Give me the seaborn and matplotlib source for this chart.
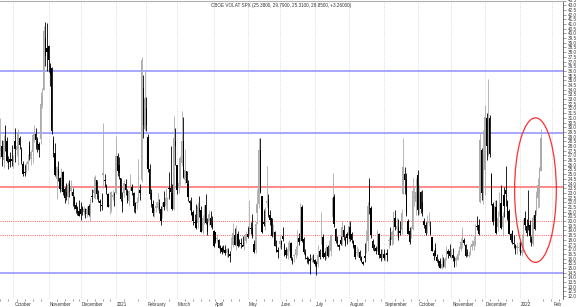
import numpy as np
import pandas as pd
import matplotlib
matplotlib.use("Agg")
import matplotlib.pyplot as plt
from matplotlib.patches import Ellipse
import matplotlib.transforms as mtransforms
import seaborn as sns

# ---------------- data ----------------
title_text = "CBOE VOLAT SPX (25.3800, 29.7900, 25.3100, 28.8500, +3.26000)"
start_date = "2020-09-21"
holidays = ["2020-11-26", "2020-12-25", "2021-01-01", "2021-01-18", "2021-02-15",
            "2021-04-02", "2021-05-31", "2021-07-05", "2021-09-06", "2021-11-25",
            "2021-12-24", "2022-01-17"]

# daily OHLC (trading days from 2020-09-21 to 2022-01-21)
opens = [
    27.5, 28.0, 26.5, 28.7, 28.5, 26.4, 26.6, 26.6,
    26.4, 28.5, 27.6, 27.7, 28.9, 27.6, 26.1, 25.2, 25.5, 26.1, 28.1, 26.6, 27.4, 29.1, 29.3, 28.5, 28.2, 28.7, 32.4, 34.0, 39.5, 38.4,
    38.6, 36.5, 36.3, 28.6, 27.3, 24.5, 25.6, 24.6, 23.4, 25.2, 23.4, 23.1, 22.6, 24.0, 23.2, 23.1, 22.6, 21.7, 21.4, 21.1,
    21.3, 21.4, 21.0, 21.3, 20.8, 21.6, 20.6, 22.7, 23.0, 22.5, 24.4, 22.7, 22.1, 21.6, 24.9, 24.4, 23.7, 22.9, 21.6, 21.3, 22.6, 22.9,
    23.0, 26.9, 26.0, 24.6, 22.3, 23.0, 24.0, 23.2, 22.1, 23.5, 23.6, 23.0, 21.9, 21.9, 22.3, 23.3, 24.4, 34.2, 29.8,
    32.1, 29.0, 25.6, 23.0, 21.8, 21.0, 21.4, 21.4, 21.9, 21.3, 20.8, 22.0, 21.6, 22.0, 23.5, 23.5, 23.0, 21.3, 28.5,
    26.0, 23.5, 24.0, 26.2, 28.5, 24.4, 25.3, 23.9, 22.1, 22.0, 21.0, 19.8, 20.1, 19.8, 21.4, 21.2, 18.9, 20.0, 21.7, 19.9, 20.0, 20.3, 20.0,
    18.9, 18.8, 18.1, 18.0, 17.3, 17.1, 17.0, 16.9, 16.6, 16.9, 16.5, 17.0, 17.5, 18.5, 17.6, 18.6, 17.8, 17.6, 17.5, 17.5, 17.9,
    18.6, 18.6, 19.3, 19.3, 17.6, 16.9, 20.9, 21.8, 27.6, 22.7, 19.9, 19.5, 21.9, 22.4, 20.7, 20.3, 18.6, 18.8, 17.3, 16.9,
    17.6, 17.9, 18.4, 17.5, 16.9, 16.3, 17.1, 17.7, 16.0, 16.3, 16.4, 17.1, 18.2, 18.1, 21.5, 18.1, 16.6, 16.1, 15.9, 16.0, 15.9, 16.0,
    15.9, 15.5, 15.4, 16.8, 18.2, 18.3, 16.6, 16.3, 17.2, 16.6, 16.8, 20.4, 22.6, 19.2, 18.0, 17.4, 18.0, 18.0, 19.1, 18.1, 18.6,
    18.4, 19.4, 18.6, 17.9, 17.4, 16.6, 16.7, 16.7, 16.1, 15.6, 16.2, 17.0, 17.9, 23.8, 21.4, 17.9, 17.5, 17.1, 16.8, 18.6, 16.5, 16.4,
    16.5, 16.1, 16.6, 17.9, 18.3, 18.0, 18.5, 20.3, 19.2, 19.4, 18.9, 19.0, 22.9, 25.0, 24.5, 20.0, 18.9, 18.6, 19.2, 22.5, 22.0,
    24.9, 21.3, 23.1, 22.0, 20.0, 19.6, 19.1, 19.8, 19.4, 18.3, 16.6, 17.1, 16.2, 15.7, 15.8, 15.0, 15.8, 15.1, 16.2, 16.8, 16.8,
    16.4, 16.4, 16.1, 15.7, 15.9, 16.6, 17.0, 17.8, 18.0, 17.4, 16.5, 16.3, 16.6, 17.2, 17.3, 17.6, 19.4, 19.6, 22.0, 27.6, 23.0,
    25.4, 31.0, 27.0, 31.0, 25.0, 21.8, 20.0, 21.5, 19.4, 21.2, 21.9, 19.4, 22.8, 23.3, 22.1, 21.1, 18.6, 18.9, 17.6, 17.5, 17.1, 17.1,
    17.6, 16.6, 17.0, 20.3, 19.5, 19.8, 19.6, 18.1, 17.6, 20.6, 21.0, 22.5, 23.0, 25.38,
]
highs = [
    31.0, 28.6, 29.2, 30.2, 29.0, 26.9, 27.4, 28.1,
    27.0, 29.9, 28.2, 29.8, 29.1, 27.9, 26.4, 26.0, 26.3, 27.2, 28.5, 27.6, 29.5, 30.2, 29.9, 29.0, 28.4, 33.7, 34.2, 40.8, 41.2, 41.1,
    38.8, 36.8, 36.4, 29.1, 28.3, 25.9, 26.4, 24.7, 25.7, 25.3, 23.6, 24.1, 24.2, 24.4, 24.4, 23.5, 22.7, 22.0, 21.6, 22.3,
    22.0, 21.6, 21.6, 21.4, 21.6, 21.8, 22.5, 23.4, 24.5, 24.9, 24.4, 23.3, 22.4, 23.0, 30.5, 25.0, 23.9, 23.0, 22.2, 23.2, 23.3, 23.1,
    29.1, 27.3, 26.8, 24.6, 23.1, 24.4, 24.5, 23.4, 23.3, 25.0, 24.0, 23.1, 22.0, 22.6, 26.6, 24.0, 37.5, 35.6, 36.0,
    33.2, 29.3, 26.1, 23.4, 22.2, 21.5, 22.0, 23.0, 22.4, 21.6, 22.0, 23.2, 23.5, 22.6, 25.2, 28.0, 24.0, 31.2, 29.9,
    26.0, 24.8, 26.9, 31.7, 31.1, 27.7, 25.3, 24.4, 22.2, 22.6, 21.2, 20.8, 21.8, 22.0, 22.7, 21.6, 20.6, 21.7, 22.9, 20.3, 21.2, 21.1, 20.5,
    19.0, 18.8, 18.6, 18.1, 17.4, 17.3, 17.5, 17.4, 17.1, 17.1, 16.8, 18.3, 19.8, 19.3, 19.6, 18.9, 18.1, 18.2, 18.4, 18.5, 18.9,
    19.4, 22.2, 19.9, 20.8, 18.0, 20.0, 23.4, 28.9, 28.9, 22.7, 21.2, 21.5, 25.9, 22.9, 21.2, 20.3, 19.7, 18.9, 18.0, 17.2,
    18.5, 18.0, 19.4, 17.7, 17.2, 17.8, 18.0, 17.8, 16.2, 16.5, 17.3, 19.0, 18.7, 21.9, 21.7, 18.3, 17.0, 16.3, 16.2, 16.5, 16.4, 16.5,
    16.0, 15.7, 17.4, 17.0, 21.0, 18.6, 16.8, 17.4, 17.4, 18.0, 18.6, 25.1, 22.9, 19.3, 18.4, 17.6, 18.4, 20.0, 19.6, 18.4, 18.8,
    20.0, 20.0, 18.8, 18.0, 17.5, 17.3, 17.1, 16.9, 16.3, 15.8, 17.7, 19.0, 22.0, 24.6, 21.6, 18.1, 17.6, 17.3, 19.1, 18.7, 17.0, 17.0,
    17.0, 16.6, 17.0, 18.3, 19.4, 19.0, 20.9, 21.2, 20.3, 20.2, 20.0, 21.3, 28.8, 25.8, 25.1, 20.2, 19.4, 19.5, 24.6, 23.6, 24.6,
    25.4, 23.8, 23.2, 23.3, 20.3, 19.9, 20.6, 21.0, 20.0, 18.3, 16.9, 17.7, 16.5, 16.0, 16.1, 16.5, 16.2, 16.2, 17.3, 17.0, 17.6,
    17.0, 17.1, 16.3, 16.3, 16.9, 17.3, 18.2, 19.4, 18.2, 17.6, 17.0, 16.8, 17.4, 18.0, 18.4, 19.7, 20.5, 20.2, 29.4, 27.8, 29.7,
    32.4, 31.5, 35.1, 31.3, 25.1, 22.0, 22.2, 22.3, 21.1, 23.1, 23.8, 21.0, 23.6, 25.9, 22.2, 21.3, 18.7, 19.0, 18.5, 17.6, 17.8, 17.8,
    18.1, 18.6, 20.2, 21.1, 20.2, 23.3, 20.1, 18.4, 20.6, 21.2, 23.2, 24.6, 25.8, 29.79,
]
lows = [
    26.7, 25.9, 25.7, 27.5, 26.3, 25.6, 25.8, 25.9,
    25.7, 26.3, 26.9, 26.0, 27.7, 26.1, 24.8, 24.8, 25.1, 25.4, 26.5, 26.0, 26.2, 28.4, 27.7, 27.4, 26.8, 28.2, 32.0, 34.0, 36.5, 36.0,
    35.9, 34.4, 29.3, 26.8, 24.8, 22.4, 24.3, 23.1, 23.2, 22.8, 21.9, 22.3, 21.8, 22.6, 22.8, 21.6, 21.3, 20.9, 20.6, 20.5,
    20.1, 20.6, 20.6, 20.3, 20.4, 20.5, 20.0, 22.0, 22.5, 22.4, 22.4, 22.0, 21.1, 21.2, 23.5, 23.6, 22.9, 21.5, 20.8, 21.0, 22.3, 21.6,
    22.9, 24.8, 24.5, 22.1, 21.0, 22.6, 22.8, 21.9, 21.6, 23.3, 22.8, 21.0, 20.9, 21.3, 22.0, 22.3, 24.2, 28.9, 29.7,
    29.6, 25.2, 22.4, 21.5, 20.5, 20.4, 21.0, 21.2, 20.9, 19.6, 20.3, 21.2, 21.3, 21.1, 22.4, 22.6, 21.2, 21.2, 26.0,
    22.9, 23.0, 23.6, 25.9, 24.6, 24.0, 23.6, 22.1, 21.2, 20.6, 19.6, 19.4, 19.2, 19.3, 20.4, 18.8, 18.6, 19.7, 19.7, 18.5, 19.6, 19.4, 19.2,
    17.2, 17.7, 17.8, 17.1, 16.6, 16.5, 16.7, 16.4, 16.2, 16.2, 15.6, 16.8, 17.2, 17.4, 16.9, 17.2, 17.3, 17.1, 17.3, 16.9, 17.7,
    18.2, 18.5, 18.6, 18.2, 16.6, 16.6, 19.7, 21.4, 23.0, 18.7, 19.5, 19.1, 21.5, 20.4, 19.6, 18.3, 18.4, 17.3, 16.7, 16.1,
    17.1, 17.0, 17.9, 16.3, 16.1, 16.0, 16.8, 15.9, 15.4, 15.6, 16.1, 16.4, 17.5, 17.9, 17.8, 16.5, 16.0, 15.5, 15.4, 14.4, 15.6, 15.6,
    15.2, 14.3, 15.1, 16.0, 17.6, 16.1, 15.9, 16.0, 16.2, 16.3, 16.3, 20.0, 19.4, 17.7, 17.3, 16.9, 17.4, 17.5, 18.0, 17.3, 17.6,
    17.8, 17.9, 17.7, 17.1, 16.0, 16.3, 16.2, 15.9, 15.6, 15.3, 15.6, 16.6, 16.8, 20.8, 18.2, 16.9, 16.8, 16.5, 16.8, 16.1, 15.8, 16.0,
    15.9, 15.7, 15.8, 17.1, 17.5, 17.5, 17.6, 19.1, 18.4, 18.0, 18.5, 18.6, 22.9, 22.9, 20.5, 18.6, 17.6, 18.2, 19.1, 21.6, 20.7,
    20.6, 20.8, 20.9, 20.5, 19.3, 18.5, 18.7, 19.5, 18.5, 16.8, 15.9, 16.3, 15.6, 15.2, 15.0, 14.9, 15.1, 15.0, 15.9, 16.1, 16.2,
    16.0, 15.8, 15.1, 15.2, 15.9, 16.4, 16.8, 17.1, 17.5, 16.2, 16.3, 16.2, 16.4, 16.9, 16.9, 17.3, 19.1, 18.5, 21.9, 22.2, 21.8,
    22.8, 26.5, 26.9, 26.8, 21.7, 19.6, 19.8, 18.6, 18.9, 20.5, 19.2, 18.4, 20.4, 21.6, 20.1, 18.6, 17.8, 17.6, 17.1, 16.5, 16.5, 16.8,
    16.4, 16.3, 16.7, 19.0, 18.4, 19.1, 17.8, 17.3, 17.3, 19.0, 20.7, 21.4, 21.5, 25.31,
]
closes = [
    27.78, 26.86, 28.58, 28.51, 26.38, 26.19, 26.27, 26.37,
    26.70, 27.63, 27.96, 29.48, 28.06, 26.36, 25.00, 25.07, 26.07, 26.40, 26.97, 27.41, 29.18, 29.35, 28.65, 28.11, 27.55, 32.46, 33.35, 40.28, 37.59, 38.02,
    37.13, 35.55, 29.57, 27.58, 24.86, 25.75, 24.80, 23.45, 25.35, 23.10, 22.45, 22.71, 23.84, 23.11, 23.70, 22.66, 21.64, 21.25, 20.84, 20.57,
    20.77, 21.17, 21.28, 20.79, 21.30, 20.68, 22.27, 22.52, 23.31, 24.72, 22.89, 22.50, 21.93, 21.57, 25.16, 24.23, 23.31, 21.53, 21.70, 23.08, 22.77, 22.75,
    26.97, 25.34, 25.07, 22.37, 21.56, 24.08, 23.33, 22.21, 23.25, 24.34, 23.24, 21.58, 21.32, 21.91, 23.19, 23.02, 37.21, 30.21, 33.09,
    30.24, 25.56, 22.91, 21.77, 20.87, 21.24, 21.63, 21.99, 21.25, 19.97, 21.46, 21.50, 22.49, 22.05, 23.45, 23.11, 21.34, 28.89, 27.95,
    23.35, 24.10, 26.67, 28.57, 24.66, 25.47, 24.03, 22.56, 21.91, 20.69, 20.03, 19.79, 19.23, 21.58, 20.95, 18.88, 20.30, 21.20, 19.81, 18.86, 20.74, 19.61, 19.40,
    17.33, 17.91, 18.12, 17.16, 16.95, 16.69, 16.91, 16.65, 16.99, 16.57, 16.25, 17.29, 18.68, 17.50, 18.71, 17.33, 17.64, 17.56, 17.28, 17.61, 18.61,
    18.31, 19.48, 19.15, 18.39, 16.69, 19.66, 21.84, 27.59, 23.13, 18.81, 19.72, 21.34, 22.18, 20.67, 20.15, 18.40, 18.84, 17.36, 16.74, 16.76,
    17.90, 17.48, 18.04, 16.42, 16.42, 17.07, 17.89, 16.10, 15.65, 16.39, 17.02, 18.15, 17.75, 20.70, 17.89, 16.66, 16.32, 15.97, 15.62, 15.76, 16.02, 15.83,
    15.48, 15.07, 16.44, 16.20, 19.00, 16.18, 16.17, 17.12, 16.33, 17.01, 18.45, 22.50, 19.73, 17.91, 17.69, 17.20, 17.58, 19.36, 18.31, 17.70, 18.24,
    19.46, 18.04, 17.97, 17.28, 16.15, 16.72, 16.79, 16.06, 15.59, 15.45, 16.12, 17.91, 21.57, 21.67, 18.56, 17.15, 17.22, 16.79, 18.84, 16.39, 16.11, 16.48,
    16.11, 16.41, 16.41, 18.00, 17.96, 18.80, 20.95, 19.37, 19.46, 18.18, 18.69, 20.81, 25.71, 24.36, 20.87, 18.63, 17.75, 18.76, 23.25, 22.56, 23.14,
    21.15, 22.96, 21.30, 21.00, 19.54, 18.77, 20.00, 19.85, 18.64, 16.86, 16.30, 16.30, 15.70, 15.49, 15.01, 15.43, 15.24, 15.98, 16.98, 16.53, 16.26,
    16.41, 16.03, 15.10, 16.03, 16.48, 17.22, 17.78, 18.73, 17.66, 16.29, 16.49, 16.37, 17.11, 17.59, 17.91, 19.17, 19.38, 18.58, 28.62, 22.96, 27.19,
    31.12, 27.95, 30.67, 27.18, 21.89, 19.90, 21.58, 18.69, 20.31, 21.89, 19.29, 20.57, 21.57, 22.87, 20.34, 18.63, 17.96, 17.68, 17.54, 16.95, 17.33, 17.22,
    16.60, 16.91, 19.73, 19.61, 18.76, 19.40, 18.41, 17.62, 20.31, 19.19, 22.79, 23.85, 25.59, 28.85,
]

blue_levels = [36.0, 29.4, 14.5]
red_level = 23.65
red_dotted_levels = [20.0, 18.5]
month_labels = ["September", "October", "November", "December", "2021", "February", "March",
                "April", "May", "June", "July", "August", "September", "October",
                "November", "December", "2022", "Feb"]
month_starts = ["2020-09-01", "2020-10-01", "2020-11-01", "2020-12-01", "2021-01-01",
                "2021-02-01", "2021-03-01", "2021-04-01", "2021-05-01", "2021-06-01",
                "2021-07-01", "2021-08-01", "2021-09-01", "2021-10-01", "2021-11-01",
                "2021-12-01", "2022-01-01", "2022-02-01"]

# ---------------- build trading-day calendar ----------------
cal = pd.bdate_range("2020-08-31", "2022-02-15")
cal = cal[~cal.isin(pd.to_datetime(holidays))]
pos = {d: i for i, d in enumerate(cal)}
def trading_pos(date_str):
    d = pd.Timestamp(date_str)
    return int(np.searchsorted(cal.values, np.datetime64(d)))

n = len(closes)
x0 = trading_pos(start_date)
df = pd.DataFrame({"x": np.arange(x0, x0 + n), "open": opens[:n], "high": highs[:n],
                   "low": lows[:n], "close": closes[:n]})
df["up"] = df["close"] >= df["open"]

# ---------------- figure ----------------
sns.set_theme(style="white")
plt.rcParams["font.family"] = ["Liberation Sans", "DejaVu Sans"]
W, H = 580, 307
fig = plt.figure(figsize=(W / 100, H / 100), dpi=100)
ax = fig.add_axes([0, 8 / H, 563 / W, 298.5 / H])

oct_pos = trading_pos("2020-10-01")
feb_pos = trading_pos("2022-02-01")
ppd = (552.3 - 13.3) / (feb_pos - oct_pos)
xl = oct_pos - 13.3 / ppd
xr = feb_pos + (563 - 552.3) / ppd

# month gridlines
mpos = [trading_pos(m) for m in month_starts]
for p in mpos:
    ax.axvline(p, color="#d0d0d0", lw=0.6, ls=(0, (1, 1.5)), zorder=0)

# horizontal levels
for lv in blue_levels:
    ax.axhline(lv, color="#9090ff", lw=1.1, zorder=1)
ax.axhline(red_level, color="#ff8080", lw=1.3, zorder=1)
for lv in red_dotted_levels:
    ax.axhline(lv, color="#ff6060", lw=0.7, ls=(0, (1, 1.2)), zorder=1)

# candles
up_c, dn_c = "#ababab", "#000000"
for up, col, z in [(True, up_c, 2), (False, dn_c, 3)]:
    sub = df[df["up"] == up]
    ax.vlines(sub["x"], sub["low"], sub["high"], color=col, lw=0.6, zorder=z)
    bottoms = np.minimum(sub["open"], sub["close"])
    heights = np.maximum(np.abs(sub["close"] - sub["open"]), 0.12)
    ax.bar(sub["x"], heights, bottom=bottoms, width=0.85, color=col,
           edgecolor=col, linewidth=0.0, zorder=z)

# ellipse
ell_c = trading_pos("2022-01-14") + 0.5
ax.add_patch(Ellipse((ell_c, 23.3), width=26, height=15.4, fill=False,
                     edgecolor="#ff3030", lw=0.9, zorder=5))

# title
ax.text(0.5, 0.993, title_text, transform=ax.transAxes, ha="center", va="top",
        fontsize=3.3, color="#333333")

# axes styling
ax.yaxis.tick_right()
ax.set_yticks(np.arange(12.0, 43.51, 0.5))
ax.set_yticklabels([f"{v:.1f}" for v in np.arange(12.0, 43.51, 0.5)], fontsize=3.3, color="#333333")
ax.tick_params(axis="y", which="major", right=True, left=False, length=2, width=0.4,
               pad=1.2, color="#555555")
ax.set_xticks(mpos)
ax.set_xticklabels(month_labels, fontsize=3.3, color="#333333", ha="left")
ax.tick_params(axis="x", which="major", length=0, pad=2.5)
week_pos = [pos[d] for d in cal if d.weekday() == 0]
ax.set_xticks(week_pos, minor=True)
ax.tick_params(axis="x", which="minor", length=1.5, width=0.4, color="#555555", bottom=True)
offset = mtransforms.ScaledTranslation(1 / 100, 0, fig.dpi_scale_trans)
for lbl in ax.get_xticklabels():
    lbl.set_transform(lbl.get_transform() + offset)

ax.set_xlim(xl, xr)
ax.set_ylim(11.7, 43.5)

ax.grid(False)
for s in ["left", "bottom"]:
    ax.spines[s].set_visible(False)
ax.spines["top"].set_color("#b0b0b0")
ax.spines["top"].set_linewidth(0.8)
ax.spines["right"].set_color("#555555")
ax.spines["right"].set_linewidth(0.6)
ax.set_facecolor("white")
fig.patch.set_facecolor("white")

fig.savefig("out.png", dpi=100)
